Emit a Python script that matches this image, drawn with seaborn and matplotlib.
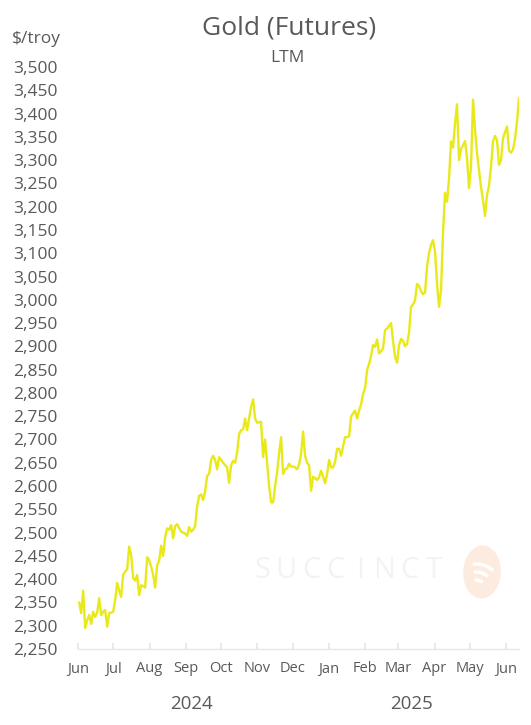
import pandas as pd
import numpy as np
import matplotlib
matplotlib.use("Agg")
import matplotlib.pyplot as plt
import matplotlib.dates as mdates
import matplotlib.transforms as mtransforms
from matplotlib.patches import Ellipse, Arc
import seaborn as sns

# Gold futures closes ($/troy oz), roughly every 1.7 days
start_date = "2024-06-02"
end_date = "2025-06-12"
gold_jun_aug = [2350, 2327, 2375, 2295, 2312, 2323, 2304, 2330, 2319, 2328,
                2359, 2323, 2330, 2334, 2298, 2327, 2328, 2330, 2355, 2392,
                2375, 2362, 2410, 2416, 2421, 2470, 2452, 2402, 2397, 2409,
                2366, 2387, 2385, 2382, 2447, 2441, 2427, 2409, 2382, 2430,
                2440, 2472, 2450]
gold_aug_oct = [2490, 2509, 2506, 2516, 2488, 2514, 2518, 2510, 2502, 2500,
                2498, 2493, 2512, 2502, 2506, 2514, 2556, 2579, 2582, 2570,
                2588, 2622, 2626, 2656, 2665, 2656, 2636, 2662, 2656, 2650,
                2645, 2640, 2607, 2645, 2654, 2650, 2672, 2712, 2720, 2722]
gold_oct_jan = [2745, 2720, 2745, 2770, 2786, 2745, 2736, 2737, 2738, 2662,
                2700, 2650, 2600, 2565, 2565, 2600, 2630, 2670, 2705, 2626,
                2636, 2638, 2648, 2642, 2642, 2640, 2636, 2646, 2670, 2717,
                2665, 2650, 2645, 2590, 2620, 2617, 2613, 2619, 2633, 2620,
                2606, 2625, 2656, 2640, 2640, 2652]
gold_jan_mar = [2680, 2680, 2665, 2685, 2705, 2705, 2707, 2749, 2756, 2762,
                2745, 2762, 2775, 2798, 2810, 2849, 2862, 2880, 2903, 2899,
                2915, 2885, 2889, 2896, 2935, 2938, 2944, 2950, 2912, 2878,
                2865, 2903, 2916, 2912, 2900, 2905, 2930, 2985, 2990, 2999]
gold_mar_jun = [3034, 3030, 3018, 3012, 3016, 3071, 3100, 3118, 3128, 3103,
                3035, 2985, 3020, 3143, 3230, 3211, 3260, 3340, 3327, 3379,
                3420, 3300, 3325, 3331, 3341, 3304, 3240, 3286, 3430, 3365,
                3315, 3279, 3242, 3214, 3180, 3225, 3245, 3286, 3340, 3352,
                3343, 3290, 3300, 3347, 3360, 3372, 3320, 3316, 3323, 3345,
                3383, 3433]

y_ticks = list(range(2250, 3501, 50))
years = ["2024", "2025"]
year_label_dates = ["2024-09-06", "2025-03-12"]

values = gold_jun_aug + gold_aug_oct + gold_oct_jan + gold_jan_mar + gold_mar_jun
dates = pd.date_range(start_date, end_date, periods=len(values))
df = pd.DataFrame({"date": dates, "price": values})

sns.set_theme(style="white")
plt.rcParams["font.family"] = ["Open Sans", "DejaVu Sans"]
text_color = "#595959"

fig = plt.figure(figsize=(5.31, 7.25), dpi=100)
ax = fig.add_axes([78 / 531, 1 - 649 / 725, (519 - 78) / 531, (649 - 67) / 725])

# faint watermark behind the line
wm_letters = "SUCCINCT"
for i, ch in enumerate(wm_letters):
    fig.text((262 + i * 24.5) / 531, 1 - 570 / 725, ch, fontsize=21,
             color="#f3f3f3", ha="center", va="center", zorder=0)
logo = Ellipse((482 / 531, 1 - 572 / 725), 36 / 531, 52 / 725, angle=-18,
               transform=fig.transFigure, color="#fdebdf", zorder=0)
fig.patches.append(logo)
for r in [10, 18, 26]:
    fig.patches.append(Arc((476 / 531, 1 - 590 / 725), r / 531 * 2, r / 725 * 2,
                           theta1=40, theta2=100, transform=fig.transFigure,
                           color="white", lw=2.5, zorder=1))

sns.lineplot(data=df, x="date", y="price", ax=ax, color="#e9e91a", linewidth=1.7)

ax.set_ylim(2250, 3500)
ax.set_xlim(pd.Timestamp("2024-06-01"), pd.Timestamp("2025-06-12"))
ax.set_yticks(y_ticks)
ax.set_yticklabels([f"{v:,}" for v in y_ticks])
ax.xaxis.set_major_locator(mdates.MonthLocator())
ax.xaxis.set_major_formatter(mdates.DateFormatter("%b"))
ax.set_xlabel("")
ax.set_ylabel("")

for side in ["top", "right", "left"]:
    ax.spines[side].set_visible(False)
ax.spines["bottom"].set_color("#e6e6e6")
ax.spines["bottom"].set_linewidth(1)
ax.patch.set_alpha(0)

ax.tick_params(axis="x", direction="in", length=4, color="#e6e6e6",
               labelsize=10.5, labelcolor=text_color, pad=9, bottom=True)
ax.tick_params(axis="y", length=0, labelsize=12.5, labelcolor=text_color, pad=47)
for lab in ax.get_yticklabels():
    lab.set_horizontalalignment("left")

trans = mtransforms.blended_transform_factory(ax.transData, fig.transFigure)
for yr, d in zip(years, year_label_dates):
    ax.text(mdates.date2num(pd.Timestamp(d)), 1 - 704 / 725, yr, transform=trans,
            ha="center", va="center", fontsize=13.5, color=text_color)

fig.text(289 / 531, 1 - 28 / 725, "Gold (Futures)", ha="center", va="center",
         fontsize=19, color=text_color)
fig.text(287 / 531, 1 - 58 / 725, "LTM", ha="center", va="center",
         fontsize=12.5, color=text_color)
fig.text(12 / 531, 1 - 39 / 725, "$/troy", ha="left", va="center",
         fontsize=12.5, color=text_color)

plt.savefig("out.png", dpi=100)
